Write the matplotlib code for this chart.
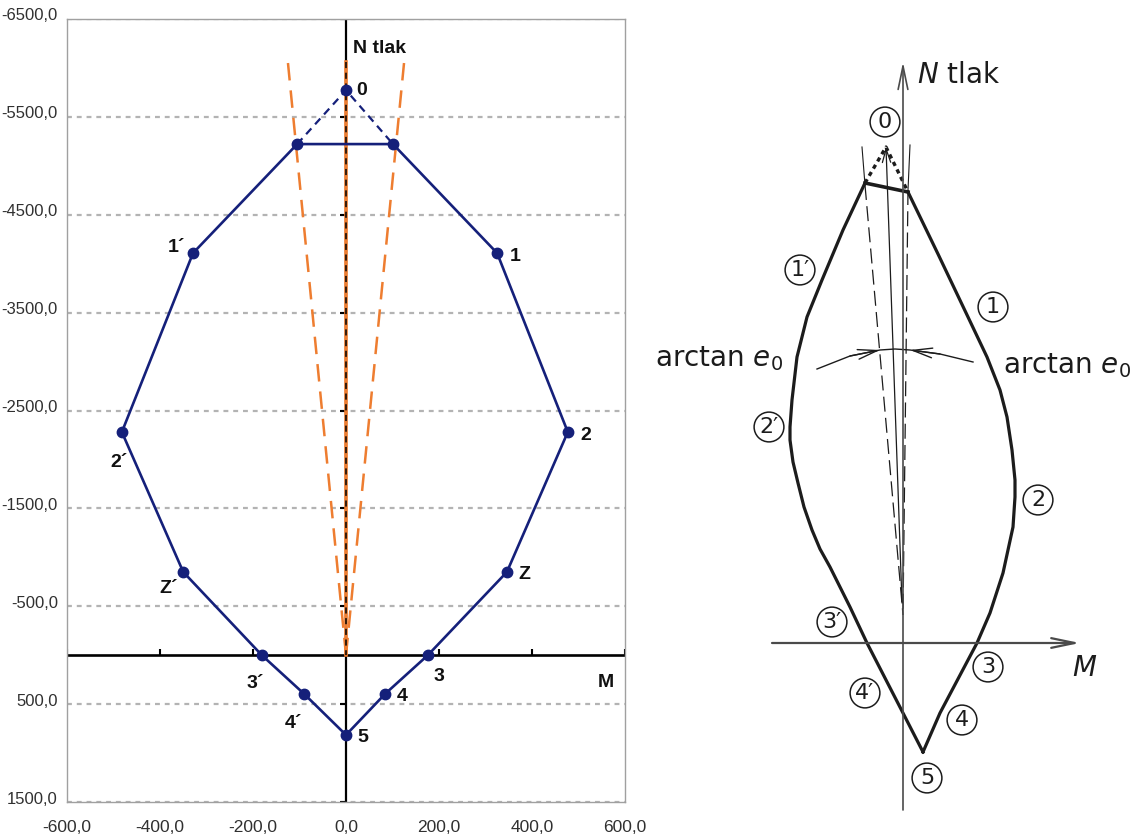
import numpy as np
import matplotlib
matplotlib.use("Agg")
import matplotlib.pyplot as plt
from matplotlib import font_manager
from matplotlib.markers import TICKLEFT, TICKUP

W, H = 1132, 839

# ---------------- interaction diagram M-N (left panel) ----------------
node_M = [-181, -350, -482, -329, -105, 101, 325, 477, 346, 176, 84, 0, -90]
node_N = [0, -850, -2280, -4108, -5222, -5222, -4108, -2280, -850, 0, 396, 815, 396]
node_labels = ["3´", "Z´", "2´", "1´", "", "", "1", "2", "Z", "3", "4", "5", "4´"]
label_dx = [-7, -15, -3, -17, 0, 0, 18, 18, 17, 11, 17, 17, -11]
label_dy = [-28, -17, -30, 6, 0, 0, -3, -3, -3, -21, -3, -3, -30]

apex_M, apex_N = 0, -5773          # point 0 (pure compression)
ecc_M = [-125, 0, 125]             # limits of the minimum eccentricity
ecc_N = [-6060, -6060, -6060]

x_ticks = [-600, -400, -200, 0, 200, 400, 600]
y_ticks = [-6500, -5500, -4500, -3500, -2500, -1500, -500, 500, 1500]

# ---------------- hand sketch of the same diagram (right panel) ----------------
left_M = [-38, -60, -81, -96, -106, -111, -113, -113, -110, -105, -99, -91, -83, -73, -53, -36, 0, 20]
left_N = [460, 413, 363, 326, 286, 243, 216, 203, 181, 160, 136, 113, 94, 76, 36, 0, -70, -109]
right_M = [5, 35, 65, 84, 97, 104, 109, 112, 112, 110, 105, 100, 87, 74, 37, 20]
right_N = [451, 389, 326, 286, 253, 226, 193, 163, 146, 116, 93, 70, 30, 0, -70, -109]
sk_apex = (-17, 496)
sk_arc_M = [-86, -53, -23, -8, 7, 37, 70]
sk_arc_N = [274, 287, 293, 294, 293, 289, 281]
sk_circ_text = ["0", "1′", "1", "2′", "2", "3′", "3", "4′", "4", "5"]
sk_circ_M = [-18, -103, 90, -134, 135, -71, 85, -38, 59, 24]
sk_circ_N = [521, 373, 336, 216, 143, 21, -24, -50, -77, -135]

installed = {f.name for f in font_manager.fontManager.ttflist}
tick_family = "Liberation Sans Narrow" if "Liberation Sans Narrow" in installed else "Liberation Sans"

navy = "#15207a"
orange = "#ee7d30"
grid_c = "#b3b3b3"

fig = plt.figure(figsize=(W / 100, H / 100), dpi=100)

ax = fig.add_axes([67 / W, 1 - 802 / H, 558 / W, 783 / H])
ax.set_xlim(-600, 600)
ax.set_ylim(1500, -6500)
ax.set_xticks([])
ax.set_yticks([])
for s in ax.spines.values():
    s.set_color("#a0a0a0")
    s.set_linewidth(1.0)

for y in y_ticks:
    ax.axhline(y, color=grid_c, lw=1.6, ls=(0, (2.2, 2.2)), zorder=0.5)

# main axes through the origin
ax.axhline(0, color="black", lw=1.9, zorder=2)
ax.axvline(0, color="black", lw=1.6, zorder=2)
ax.plot(np.zeros(len(y_ticks)), y_ticks, ls="none", marker=TICKLEFT, ms=4, mew=1.5, color="black", zorder=2)
ax.plot(x_ticks, np.zeros(len(x_ticks)), ls="none", marker=TICKUP, ms=4, mew=1.5, color="black", zorder=2)

# eccentricity limits
for m_end, n_end in zip(ecc_M, ecc_N):
    if m_end == 0:
        ax.plot([0, 0], [n_end, 0], color=orange, lw=2.6, zorder=3)
        ax.plot([0, 0], [n_end, 0], color="black", lw=1.1, ls=(0, (4, 3)), zorder=3.1)
    else:
        ax.plot([0, m_end], [0, n_end], color=orange, lw=1.8, ls=(0, (7, 4)), zorder=3)

# interaction polygon
poly_M = node_M + node_M[:1]
poly_N = node_N + node_N[:1]
ax.plot(poly_M, poly_N, color=navy, lw=1.9, zorder=4)
ax.plot([node_M[4], apex_M, node_M[5]], [node_N[4], apex_N, node_N[5]],
        color=navy, lw=1.6, ls=(0, (3.5, 2.5)), zorder=4)
ax.plot(node_M + [apex_M], node_N + [apex_N], ls="none", marker="o", ms=7.5,
        color=navy, zorder=5)

lab_kw = dict(fontsize=14, fontweight="bold", family=tick_family, color="#111111")
for m, n, t, dx, dy in zip(node_M, node_N, node_labels, label_dx, label_dy):
    if t:
        ax.annotate(t, (m, n), xytext=(dx, dy), textcoords="offset pixels",
                    ha="center", va="center", zorder=6, **lab_kw)
ax.annotate("0", (apex_M, apex_N), xytext=(16, 0), textcoords="offset pixels",
            ha="center", va="center", **lab_kw)
ax.text(15, -6200, "N tlak", ha="left", va="center", **lab_kw)
ax.text(559, 284, "M", ha="center", va="center", **lab_kw)


def fmt(v):
    return f"{v:.1f}".replace(".", ",")


for y in y_ticks:
    ax.annotate(fmt(y), xy=(0, y), xycoords=("axes fraction", "data"), xytext=(-9, 3),
                textcoords="offset pixels", ha="right", va="center", fontsize=12,
                family=tick_family, color="#303030", annotation_clip=False)
for x in x_ticks:
    ax.annotate(fmt(x), xy=(x, 0), xycoords=("data", "axes fraction"), xytext=(0, -18),
                textcoords="offset pixels", ha="center", va="top", fontsize=12.5,
                family=tick_family, color="#303030", annotation_clip=False)

# ---------------- sketch panel ----------------
sk = fig.add_axes([640 / W, 0, (W - 640) / W, 1])
sk.set_xlim(640 - 903, W - 903)
sk.set_ylim(643 - H, 643)
sk.axis("off")
ink = "#1c1c1c"
ax_ink = "#4a4a4a"

sk.annotate("", xy=(0, 581), xytext=(0, -167),
            arrowprops=dict(arrowstyle="->,head_length=1.2,head_width=0.25", color=ax_ink, lw=1.2,
                            shrinkA=0, shrinkB=0, mutation_scale=14))
sk.annotate("", xy=(177, 0), xytext=(-131, 0),
            arrowprops=dict(arrowstyle="->,head_length=1.2,head_width=0.25", color=ax_ink, lw=1.6,
                            shrinkA=0, shrinkB=0, mutation_scale=14))

sk.plot(left_M, left_N, color=ink, lw=2.3, solid_joinstyle="round")
sk.plot(right_M, right_N, color=ink, lw=2.3, solid_joinstyle="round")
sk.plot([left_M[0], right_M[0]], [left_N[0], right_N[0]], color=ink, lw=2.6)
sk.plot([left_M[0], sk_apex[0], right_M[0]], [left_N[0], sk_apex[1], right_N[0]],
        color=ink, lw=2.4, ls=(0, (1.3, 1.2)))

# eccentricity rays
sk.plot([-41, -38], [496, 458], color=ink, lw=0.8)
sk.plot([-38, 0], [458, 28], color=ink, lw=0.9, ls=(0, (12, 5)))
sk.plot([7, 5], [498, 453], color=ink, lw=0.8)
sk.plot([5, 0], [453, 28], color=ink, lw=0.9, ls=(0, (12, 5)))
sk.annotate("", xy=sk_apex, xytext=(-1, 40),
            arrowprops=dict(arrowstyle="->,head_length=0.8,head_width=0.25", color=ink, lw=0.9,
                            shrinkA=0, shrinkB=0, mutation_scale=12))

sk.plot(sk_arc_M, sk_arc_N, color=ink, lw=1.0)
sk.annotate("", xy=(sk_arc_M[2], sk_arc_N[2]), xytext=(sk_arc_M[1], sk_arc_N[1]),
            arrowprops=dict(arrowstyle="->,head_length=1.0,head_width=0.25", color=ink, lw=1.0,
                            shrinkA=0, shrinkB=0, mutation_scale=14))
sk.annotate("", xy=(sk_arc_M[4], sk_arc_N[4]), xytext=(sk_arc_M[5], sk_arc_N[5]),
            arrowprops=dict(arrowstyle="->,head_length=1.0,head_width=0.25", color=ink, lw=1.0,
                            shrinkA=0, shrinkB=0, mutation_scale=14))

sk_font = "DejaVu Sans"
sk.text(-248, 277, r"arctan $e_0$", fontsize=20, family=sk_font, color=ink, va="baseline", ha="left")
sk.text(100, 270, r"arctan $e_0$", fontsize=20, family=sk_font, color=ink, va="baseline", ha="left")
sk.text(14, 568, r"$N$ tlak", fontsize=20, family=sk_font, color=ink, va="center", ha="left")
sk.text(182, -25, r"$M$", fontsize=20, family=sk_font, color=ink, va="center", ha="center")

for t, m, n in zip(sk_circ_text, sk_circ_M, sk_circ_N):
    sk.text(m, n, t, fontsize=16, family=sk_font, color=ink, ha="center", va="center",
            bbox=dict(boxstyle="circle,pad=0.22", fc="none", ec=ink, lw=1.1))

fig.savefig("out.png", dpi=100, facecolor="white")
